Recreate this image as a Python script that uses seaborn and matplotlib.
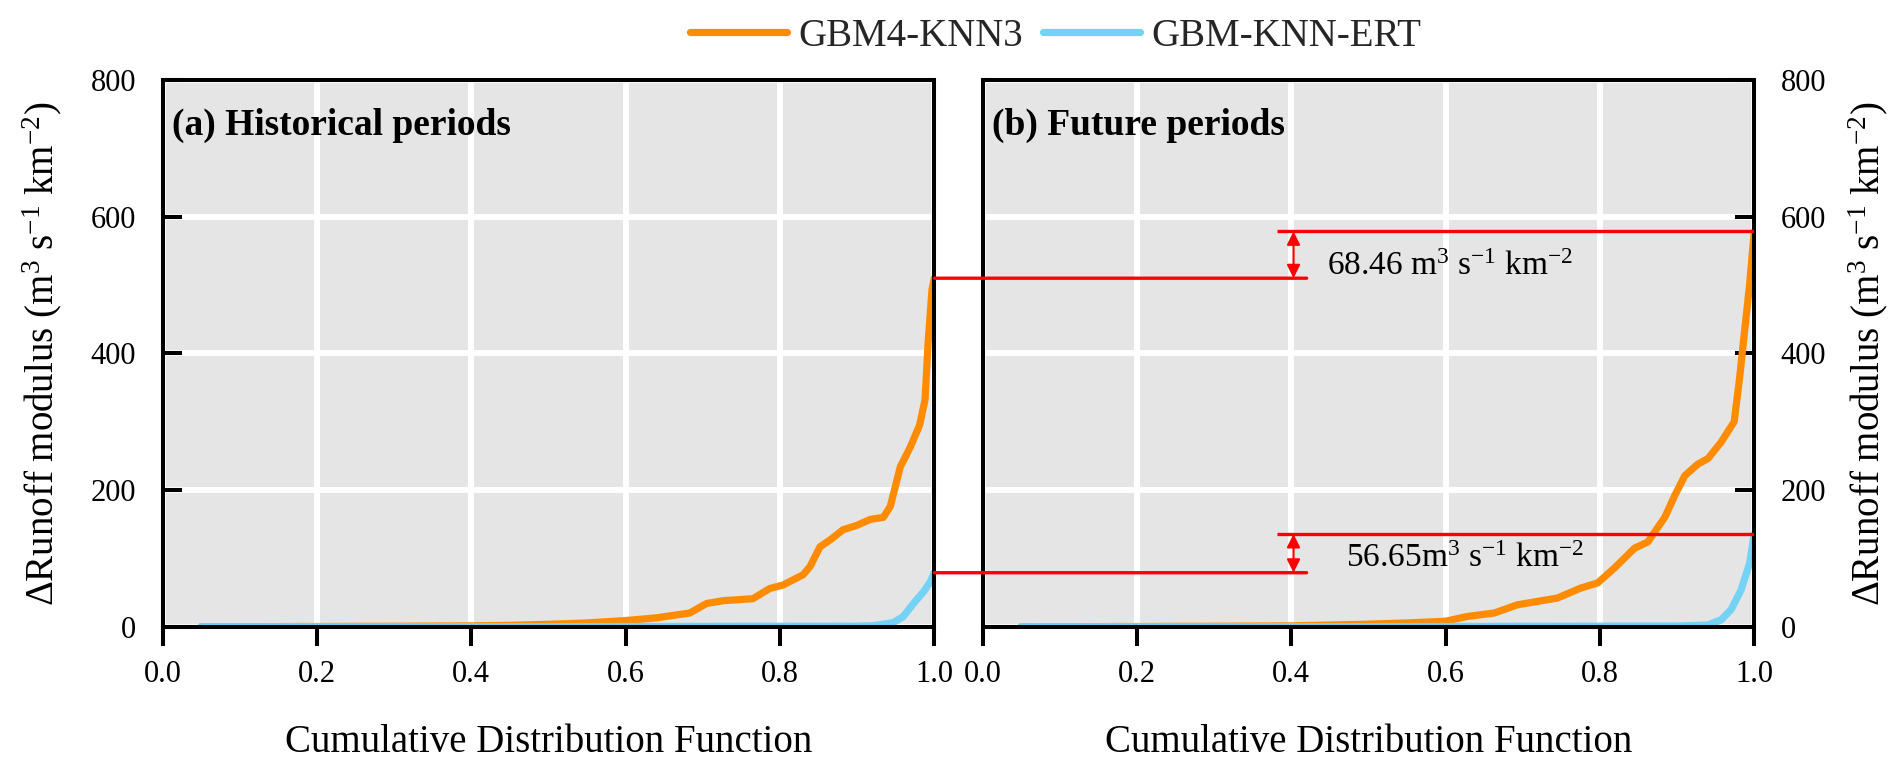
import pandas as pd
import matplotlib
matplotlib.use('Agg')
import matplotlib.pyplot as plt
from matplotlib.patches import ConnectionPatch
from matplotlib.lines import Line2D
import seaborn as sns

# Values (CDF -> delta runoff modulus)
models = ['GBM4-KNN3', 'GBM-KNN-ERT']
colors = ['#ff8c00', '#74d2f5']

hist_cdf_gbm = [0.05, 0.10, 0.20, 0.30, 0.40, 0.45, 0.50, 0.55, 0.60, 0.64, 0.683, 0.705, 0.726,
                0.765, 0.787, 0.804, 0.830, 0.839, 0.852, 0.865, 0.882, 0.899, 0.917, 0.934,
                0.943, 0.956, 0.969, 0.981, 0.988, 0.992, 0.997, 1.0]
hist_val_gbm = [0.0, 0.1, 0.3, 0.6, 1.2, 2.0, 3.5, 5.5, 9.0, 13.0, 20.0, 34.0, 38.0,
                41.0, 56.0, 61.0, 76.0, 88.0, 117.0, 127.0, 142.0, 148.0, 157.0, 160.0,
                176.0, 234.0, 263.0, 295.0, 332.0, 415.0, 493.0, 510.0]

hist_cdf_ert = [0.05, 0.50, 0.90, 0.921, 0.947, 0.960, 0.973, 0.986, 0.995, 1.0]
hist_val_ert = [0.0, 0.2, 0.8, 1.5, 6.0, 15.0, 34.0, 51.0, 66.0, 79.0]

fut_cdf_gbm = [0.05, 0.10, 0.20, 0.30, 0.40, 0.49, 0.55, 0.60, 0.628, 0.663, 0.693, 0.745,
               0.775, 0.797, 0.819, 0.845, 0.862, 0.884, 0.897, 0.910, 0.927, 0.940, 0.957,
               0.974, 0.981, 0.987, 0.994, 1.0]
fut_val_gbm = [0.0, 0.1, 0.3, 0.6, 1.2, 3.4, 5.5, 8.0, 15.0, 20.0, 32.0, 42.0,
               56.5, 64.0, 86.0, 115.0, 124.0, 160.0, 192.0, 221.0, 238.0, 246.0, 270.0,
               300.0, 364.0, 428.0, 501.0, 578.46]

fut_cdf_ert = [0.05, 0.50, 0.90, 0.940, 0.957, 0.970, 0.983, 0.994, 1.0]
fut_val_ert = [0.0, 0.2, 1.0, 2.5, 10.0, 25.0, 54.0, 93.0, 135.65]

x_ticks = [0.0, 0.2, 0.4, 0.6, 0.8, 1.0]
y_ticks = [0, 200, 400, 600, 800]
panel_titles = ['(a) Historical periods', '(b) Future periods']
diff_labels = ['68.46 m$^{3}$ s$^{-1}$ km$^{-2}$', '56.65m$^{3}$ s$^{-1}$ km$^{-2}$']


def to_frame(cdf_a, val_a, cdf_b, val_b):
    a = pd.DataFrame({'cdf': cdf_a, 'modulus': val_a, 'model': models[0]})
    b = pd.DataFrame({'cdf': cdf_b, 'modulus': val_b, 'model': models[1]})
    return pd.concat([a, b], ignore_index=True)


hist_df = to_frame(hist_cdf_gbm, hist_val_gbm, hist_cdf_ert, hist_val_ert)
fut_df = to_frame(fut_cdf_gbm, fut_val_gbm, fut_cdf_ert, fut_val_ert)

sns.set_theme(style='darkgrid')
plt.rcParams['font.family'] = ['Liberation Serif', 'DejaVu Serif']
plt.rcParams['mathtext.fontset'] = 'custom'
plt.rcParams['mathtext.rm'] = 'Liberation Serif'
plt.rcParams['mathtext.it'] = 'Liberation Serif:italic'
plt.rcParams['mathtext.bf'] = 'Liberation Serif:bold'

fig = plt.figure(figsize=(18.92, 7.74), dpi=100)
ax1 = fig.add_axes([0.0859, 0.1903, 0.4079, 0.7063])
ax2 = fig.add_axes([0.5193, 0.1903, 0.4079, 0.7063])
palette = dict(zip(models, colors))

for ax, df, title in zip([ax1, ax2], [hist_df, fut_df], panel_titles):
    ax.set_facecolor('#e5e5e5')
    ax.grid(True, color='white', lw=4.3)
    ax.set_axisbelow(True)
    sns.lineplot(data=df, x='cdf', y='modulus', hue='model', palette=palette,
                 lw=5.2, legend=False, ax=ax, solid_capstyle='round',
                 solid_joinstyle='round')
    ax.set_xlim(0, 1)
    ax.set_ylim(0, 800)
    ax.set_xticks(x_ticks)
    ax.set_xticklabels(['%.1f' % t for t in x_ticks])
    ax.set_yticks(y_ticks)
    ax.set_yticklabels([str(t) for t in y_ticks])
    for sp in ax.spines.values():
        sp.set_visible(True)
        sp.set_color('black')
        sp.set_linewidth(2.9)
    ax.tick_params(axis='x', bottom=True, direction='out', length=14, width=2.9,
                   pad=10, labelsize=22, color='black', labelcolor='black')
    ax.tick_params(axis='y', direction='in', length=14, width=2.9, pad=19,
                   labelsize=22, color='black', labelcolor='black')
    ax.set_xlabel('Cumulative Distribution Function', fontsize=28, color='black')
    ax.xaxis.set_label_coords(0.5, -0.211)
    ax.xaxis.label.set_verticalalignment('center')
    ax.set_ylabel('ΔRunoff modulus (m$^{3}$ s$^{-1}$ km$^{-2}$)', fontsize=28, color='black')
    ax.text(0.012, 0.9, title, transform=ax.transAxes, fontsize=27,
            fontweight='bold', va='baseline', ha='left', color='black')

ax1.tick_params(axis='y', left=True, right=False, labelleft=True, labelright=False)
ax1.yaxis.set_label_coords(-0.156, 0.5)
ax1.yaxis.label.set_verticalalignment('center')

ax2.yaxis.tick_right()
ax2.tick_params(axis='y', left=False, right=True, labelleft=False, labelright=True)
ax2.yaxis.set_label_position('right')
ax2.yaxis.set_label_coords(1.147, 0.5)
ax2.yaxis.label.set_verticalalignment('center')

# difference markers between historical and future maxima
hist_max = [max(hist_val_gbm), max(hist_val_ert)]
fut_max = [max(fut_val_gbm), max(fut_val_ert)]
text_x = [0.446, 0.471]
text_y = [hist_max[0] + 4, hist_max[1] + 8]
for h, f, lab, tx, ty in zip(hist_max, fut_max, diff_labels, text_x, text_y):
    con = ConnectionPatch(xyA=(1.0, h), coordsA='data', axesA=ax1,
                          xyB=(0.42, h), coordsB='data', axesB=ax2,
                          color='red', lw=2.4, zorder=5)
    fig.add_artist(con)
    ax2.hlines(f, 0.382, 1.0, color='red', lw=2.4, zorder=5)
    ax2.annotate('', xy=(0.403, f), xytext=(0.403, h),
                 arrowprops=dict(arrowstyle='<|-|>', color='red', lw=1.5,
                                 shrinkA=0, shrinkB=0, mutation_scale=20))
    ax2.text(tx, ty, lab, fontsize=24, va='baseline', ha='left', color='black')

handles = [Line2D([0], [0], color=c, lw=5.2, solid_capstyle='round') for c in colors]
fig.legend(handles, models, loc='center', bbox_to_anchor=(0.558, 0.953), ncol=2,
           frameon=False, fontsize=28, handlelength=2.5, handletextpad=0.3,
           columnspacing=0.5)

fig.savefig('out.png', dpi=100, facecolor='white')
